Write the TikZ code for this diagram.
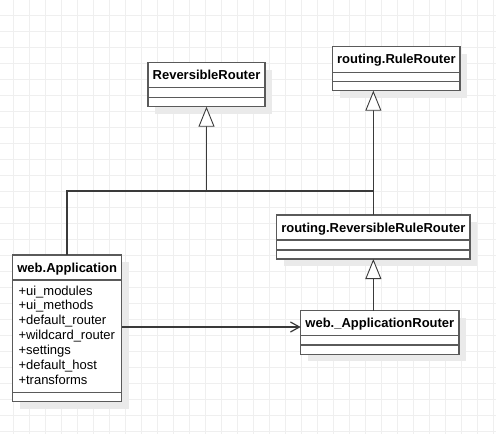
\documentclass[tikz,border=0pt]{standalone}
\usepackage{fontspec}
\setmainfont{Liberation Sans}
\usetikzlibrary{arrows.meta}
\usetikzlibrary{calc}
\definecolor{boxline}{HTML}{5A5A5A}
\definecolor{wire}{HTML}{3A3A3A}
\definecolor{gridgrey}{HTML}{EFEFEF}
\definecolor{shadowgrey}{HTML}{EAEAEA}
\newcommand{\umlclass}[8] % name, left, top, right, bottom, first line, second line, title (all in px)
{
	% shadow
	\fill[classshadow] (#2+7,#3+7) rectangle (#4+7,#5+7);
	% box
	\node[classbox, minimum width={(#4-#2)*1pt}, minimum height={(#5-#3)*1pt}] (#1) at ({(#2+#4)/2},{(#3+#5)/2}) {};
	% compartments
	\draw[classline] (#2,#6) -- (#4,#6);
	\draw[classline] (#2,#7) -- (#4,#7);
	% title
	\node[classtitle] (#1-title) at ({(#2+#4)/2},#3+17) {#8};
}

\begin{document}
\begin{tikzpicture}[x=1pt, y=-1pt,
	classshadow/.style={fill=shadowgrey},
	classbox/.style={draw=boxline, fill=white, line width=1.5pt, inner sep=0pt, outer sep=0pt},
	classline/.style={draw=boxline, line width=1.5pt},
	classtitle/.style={anchor=base, inner sep=0pt, font=\fontsize{13}{15}\selectfont\bfseries},
	attr/.style={anchor=base west, inner sep=0pt, font=\fontsize{13}{15}\selectfont},
	link/.style={draw=wire, line width=1.6pt},
	inherit/.style={link, -{Triangle[length=20pt, width=16pt, fill=white, line width=0.9pt]}},
	navarrow/.style={link, -{Straight Barb[length=9pt, width=10pt, line width=1.2pt]}}]
	\useasboundingbox (0,0) rectangle (496,434);
	% background grid, 16px
	\foreach \gx in {13.5,29.5,...,493.5}
		\draw[gridgrey, line width=0.8pt] (\gx,0) -- (\gx,434);
	\foreach \gy in {15.5,31.5,...,431.5}
		\draw[gridgrey, line width=0.8pt] (0,\gy) -- (496,\gy);
	
	% classes
	\umlclass{rrouter}{148}{62.7}{265}{106.7}{87.7}{97.7}{ReversibleRouter};
	\umlclass{rulerouter}{332.7}{46.7}{460}{90.7}{72.3}{81.7}{routing.RuleRouter};
	\umlclass{rrr}{276.7}{215}{470}{259}{240}{250}{routing.ReversibleRuleRouter};
	\umlclass{approuter}{300.7}{310.7}{459}{354.3}{335.7}{345}{web.\_ApplicationRouter};
	\umlclass{app}{12.7}{255}{121.7}{401.7}{280}{392.7}{web.Application};
	
	% attributes of web.Application
	\foreach \attrname [count=\i] in {+ui\_modules, +ui\_methods, +default\_router, +wildcard\_router, +settings, +default\_host, +transforms}
		\node[attr] (app-attr\i) at (18.3, 280.1+14.9*\i) {\attrname};
	
	% generalisations
	\coordinate (join) at (206.5,191);
	\draw[link] (app.north) |- (join);
	\draw[link] (join) -- (join -| rrr.north);
	\draw[inherit] (join) -- (rrouter.south);
	\draw[inherit] (rrr.north) -- (rrr.north |- rulerouter.south);
	\draw[inherit] (rrr.north |- approuter.north) -- (rrr.south);
	
	% association
	\coordinate (navline) at (200,327);
	\draw[navarrow] (app.east |- navline) -- (approuter.west |- navline);
\end{tikzpicture}
\end{document}
